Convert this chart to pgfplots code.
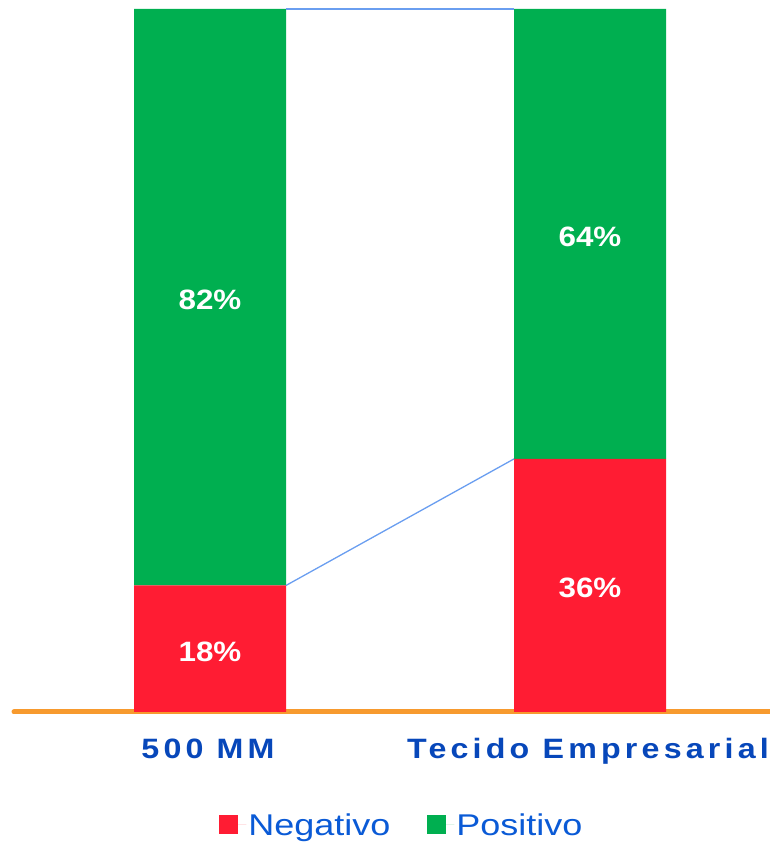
\documentclass[border=0pt]{standalone}
\usepackage{pgfplots}
\pgfplotsset{compat=1.18}
\usepackage{fontspec}
\setmainfont{Liberation Sans}
\newfontfamily\catfont{Liberation Sans}[LetterSpace=15,FakeStretch=1.15]
\newfontfamily\legfont{Liberation Sans}[FakeStretch=1.2]
\newfontfamily\valfont{Liberation Sans}[FakeStretch=1.12]

\definecolor{neg}{HTML}{FF1C33}
\definecolor{pos}{HTML}{00AF50}
\definecolor{baseorange}{HTML}{F79A2E}
\definecolor{catblue}{HTML}{0747BA}
\definecolor{legblue}{HTML}{0A5AD6}
\definecolor{serline}{HTML}{6A9EF0}

\begin{document}
\begin{tikzpicture}
  \useasboundingbox (0,0) rectangle (770pt,845pt);

  % bars, baseline, category names, legend
  \begin{axis}[
    at={(14pt,133pt)}, anchor=south west,
    scale only axis,
    width=756pt, height=703pt,
    xmin=-0.5158, xmax=1.4737,
    ymin=0, ymax=100,
    clip=false,
    ybar stacked,
    bar width=0.4,
    axis x line=bottom,
    axis y line=none,
    x axis line style={-, draw=baseorange, line width=5pt, line cap=round},
    xtick={0,1},
    xticklabels={500 MM, Tecido Empresarial},
    major tick length=0pt,
    xticklabel style={anchor=base, yshift=-46pt, xshift=-2pt,
      font=\catfont\bfseries\fontsize{28}{30}\selectfont, text=catblue},
    legend columns=2,
    legend style={at={(0.513,-0.1607)}, anchor=center, draw=none, fill=none,
      font=\legfont\fontsize{30}{32}\selectfont, text=legblue,
      /tikz/every even column/.append style={column sep=35pt}},
    legend image code/.code={\fill[#1] (0pt,-9pt) rectangle (19pt,10pt);
      \path (0pt,0pt) -- (27pt,0pt);},
  ]
    \addplot[fill=neg, draw=none] coordinates {(0,18) (1,36)};
    \addplot[fill=pos, draw=none] coordinates {(0,82) (1,64)};
    \legend{Negativo, Positivo}
  \end{axis}

  % series lines and value labels
  \begin{axis}[
    at={(14pt,133pt)}, anchor=south west,
    scale only axis,
    width=756pt, height=703pt,
    xmin=-0.5158, xmax=1.4737,
    ymin=0, ymax=100,
    clip=false,
    hide axis,
  ]
    \addplot[serline, line width=1.3pt] coordinates {(0.2,18) (0.8,36)};
    \addplot[serline, line width=1.3pt] coordinates {(0.2,100) (0.8,100)};
    \addplot[only marks, mark=none, point meta=explicit symbolic,
      nodes near coords, nodes near coords align={center},
      every node near coord/.append style={text=white,
        font=\valfont\bfseries\fontsize{28}{30}\selectfont}]
      coordinates {(0,8.6)[18\%] (0,58.6)[82\%] (1,17.6)[36\%] (1,67.6)[64\%]};
  \end{axis}
\end{tikzpicture}
\end{document}
